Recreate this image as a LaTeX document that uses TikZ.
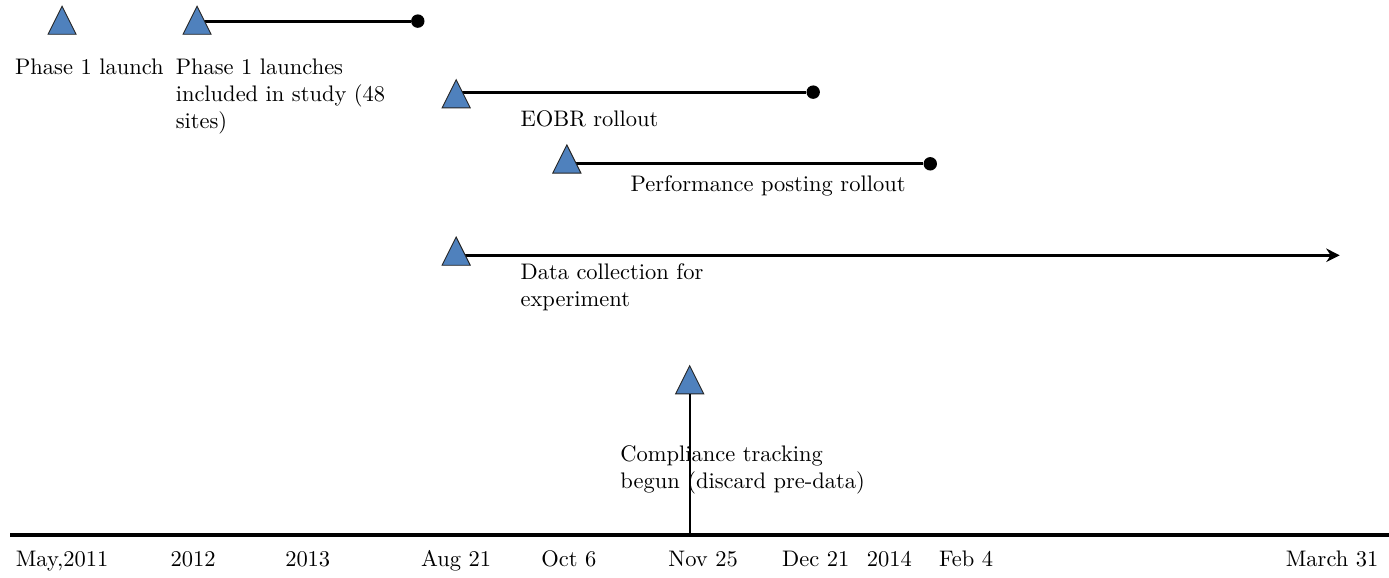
\documentclass[tikz,border=0pt]{standalone}
\usepackage{tikz}
\usetikzlibrary{arrows.meta, shapes.geometric, backgrounds}
\definecolor{evtblue}{RGB}{79,129,189}

\begin{document}
\begin{tikzpicture}[
  evt/.style={draw=black!85,fill=evtblue,isosceles triangle,isosceles triangle stretches,shape border rotate=90,minimum width=0.44cm,minimum height=0.44cm,inner sep=0pt},
  enddot/.style={circle,fill=black,minimum size=0.21cm,inner sep=0pt},
  span/.style={line width=1.25pt},
  lbl/.style={anchor=north west,inner sep=0pt,align=left},
  datelbl/.style={anchor=base,inner sep=0pt}]
  \useasboundingbox (0,0) rectangle (21.71,-9.03);
  % events
  \node[evt](p1) at(0.97,-0.40){};
  \node[evt](p1s) at(3.08,-0.40){};
  \node[evt](eobr) at(7.13,-1.55){};
  \node[evt](perf) at(8.86,-2.57){};
  \node[evt](data) at(7.13,-4.01){};
  \node[evt](comp) at(10.78,-6.02){};
  % ends
  \node[enddot](p1se) at(6.53,-0.33){};
  \node[enddot](eobre) at(12.71,-1.44){};
  \node[enddot](perfe) at(14.54,-2.56){};
  \coordinate(datae) at(20.94,-3.99);
  \begin{scope}[on background layer]
    \draw[span](p1se)--(p1se-|p1s);
    \draw[span](eobre)--(eobre-|eobr);
    \draw[span](perfe)--(perfe-|perf);
    \draw[span,{Stealth[length=6pt,width=6pt]}-](datae)--(datae-|data);
  \end{scope}
  % labels
  \node[lbl](p1l) at(0.23,-0.91){Phase 1 launch};
  \node[lbl](p1sl) at(2.74,-0.91){Phase 1 launches\\included in study (48\\sites)};
  \node[lbl](eobrl) at(8.13,-1.72){EOBR rollout};
  \node[lbl](perfl) at(9.85,-2.74){Performance posting rollout};
  \node[lbl](datal) at(8.13,-4.11){Data collection for\\experiment};
  \node[lbl](compl) at(9.69,-6.96){Compliance tracking\\begun (discard pre-data)};
  % axis
  \coordinate(ax0) at(0.16,-8.36);
  \coordinate(ax1) at(21.71,-8.36);
  \coordinate(compax) at(10.78,-8.36);
  \draw[line width=1.6pt](ax0)--(ax1);
  \draw[line width=1pt](compax)--(comp);
  \node[datelbl](d0) at(0.97,-8.86){May,2011};
  \node[datelbl](d1) at(3.02,-8.86){2012};
  \node[datelbl](d2) at(4.81,-8.86){2013};
  \node[datelbl](d3) at(7.13,-8.86){Aug 21};
  \node[datelbl](d4) at(8.89,-8.86){Oct 6};
  \node[datelbl](d5) at(10.99,-8.86){Nov 25};
  \node[datelbl](d6) at(12.75,-8.86){Dec 21};
  \node[datelbl](d7) at(13.90,-8.86){2014};
  \node[datelbl](d8) at(15.10,-8.86){Feb 4};
  \node[datelbl](d9) at(20.82,-8.86){March 31};
\end{tikzpicture}
\end{document}
